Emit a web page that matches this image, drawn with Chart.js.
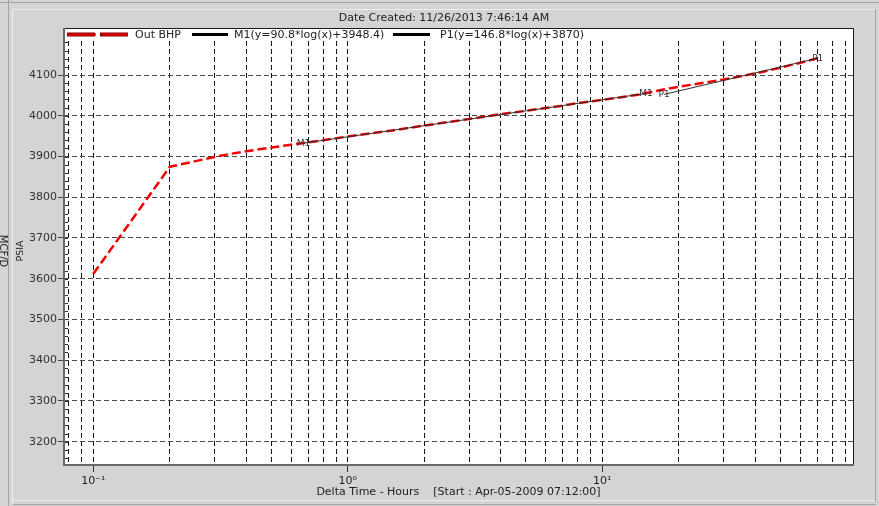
<!DOCTYPE html>
<html>
<head>
<meta charset="utf-8">
<script src="https://cdn.jsdelivr.net/npm/chart.js@4/dist/chart.umd.min.js"></script>
<style>
  html, body { margin: 0; padding: 0; background: #d4d4d4; }
  #wrap { width: 879px; height: 506px; position: relative; }
  canvas { display: block; }
</style>
</head>
<body>
<div id="wrap"><canvas id="chart" width="879" height="506"></canvas></div>
<script>
// Bottom-hole pressure vs. elapsed time (hours)
const hours = [0.1, 0.2, 0.25, 0.3, 0.35, 0.4, 0.5, 0.6, 0.7, 0.8, 0.9, 1, 1.2, 1.5, 2, 2.5, 3, 4, 5, 6, 7, 8, 9, 10,
               12, 14, 16, 18, 20, 25, 30, 35, 40, 45, 50, 60, 70];
const outBhp = [3612, 3875, 3888, 3899, 3907, 3913, 3922, 3929, 3935, 3940, 3945, 3949, 3956, 3964, 3976, 3985, 3992, 4004,
                4012, 4019, 4025, 4031, 4035, 4039, 4046, 4052, 4060, 4066, 4071, 4081, 4089, 4097, 4104, 4111, 4118, 4130, 4141];

// Semi-log straight-line fits: y = slope * log10(x) + intercept
const m1Fit = [90.8, 3948.4];
const p1Fit = [146.8, 3870];
const m1Span = [0.67, 14.85];
const p1Span = [17.5, 70.3];

const seriesNames = ['Out BHP', 'M1(y=90.8*log(x)+3948.4)', 'P1(y=146.8*log(x)+3870)'];
const markerNames = ['M1', 'P1'];

const yTickValues = [3200, 3300, 3400, 3500, 3600, 3700, 3800, 3900, 4000, 4100];
const decadeValues = [0.1, 1, 10];
const decadeLabels = ['10\u207B\u00B9', '10\u2070', '10\u00B9'];

const titleText = 'Date Created: 11/26/2013 7:46:14 AM';
const xTitle = 'Delta Time - Hours    [Start : Apr-05-2009 07:12:00]';
const yTitle = 'PSIA';
const y2Title = 'MCF/D';

const FONT = "'DejaVu Sans', sans-serif";

const fitLine = (fit, span) => span.map(x => ({ x, y: fit[0] * Math.log10(x) + fit[1] }));
const isDecade = v => Math.abs(Math.log10(v) - Math.round(Math.log10(v))) < 1e-9;

const LEGEND_BAND = 13;

// Window frame, white plotting panel and rotated side captions
const framePlugin = {
  id: 'frame',
  beforeDraw(chart) {
    const { ctx, chartArea: a } = chart;
    ctx.save();
    ctx.fillStyle = '#d4d4d4';
    ctx.fillRect(0, 0, chart.width, chart.height);
    // panel borders
    ctx.lineWidth = 1;
    ctx.strokeStyle = '#a4a4a4';
    ctx.beginPath();
    ctx.moveTo(8.5, 0); ctx.lineTo(8.5, chart.height);
    ctx.moveTo(0, 2.5); ctx.lineTo(chart.width, 2.5);
    ctx.moveTo(875.5, 9); ctx.lineTo(875.5, 502);
    ctx.moveTo(13, 504.5); ctx.lineTo(876, 504.5);
    ctx.stroke();
    ctx.strokeStyle = '#eeeeee';
    ctx.beginPath();
    ctx.moveTo(12.5, 9); ctx.lineTo(12.5, 504);
    ctx.moveTo(12, 9.5); ctx.lineTo(875, 9.5);
    ctx.moveTo(13, 500.5); ctx.lineTo(875, 500.5);
    ctx.stroke();
    // white plot panel incl. legend band
    ctx.fillStyle = '#ffffff';
    ctx.fillRect(a.left, a.top - LEGEND_BAND, a.right - a.left, a.bottom - a.top + LEGEND_BAND);
    // header
    ctx.fillStyle = '#222';
    ctx.font = '11px ' + FONT;
    ctx.textAlign = 'center';
    ctx.textBaseline = 'middle';
    ctx.fillText(titleText, 444, 18);
    // y captions
    ctx.font = '9.5px ' + FONT;
    ctx.textBaseline = 'alphabetic';
    ctx.save();
    ctx.translate(23, 251);
    ctx.rotate(-Math.PI / 2);
    ctx.fillText(yTitle, 0, 0);
    ctx.restore();
    ctx.save();
    ctx.font = '10px ' + FONT;
    ctx.translate(0, 251);
    ctx.rotate(Math.PI / 2);
    ctx.fillText(y2Title, 0, 0);
    ctx.restore();
    ctx.restore();
  },
  afterDraw(chart) {
    const { ctx, chartArea: a, scales } = chart;
    ctx.save();
    // inner minor ticks on the pressure axis every 20 psi
    ctx.strokeStyle = '#333';
    ctx.lineWidth = 1;
    ctx.beginPath();
    for (let v = 3160; v <= 4180; v += 20) {
      const y = Math.round(scales.y.getPixelForValue(v)) + 0.5;
      if (y < a.top || y > a.bottom) continue;
      ctx.moveTo(a.left, y); ctx.lineTo(a.left + 4, y);
    }
    ctx.stroke();
    // top and right border
    ctx.strokeStyle = '#1a1a1a';
    ctx.beginPath();
    ctx.moveTo(a.left, a.top - LEGEND_BAND + 0.5); ctx.lineTo(a.right + 0.5, a.top - LEGEND_BAND + 0.5);
    ctx.lineTo(a.right + 0.5, a.bottom);
    ctx.stroke();
    // left and bottom axis lines
    ctx.strokeStyle = '#6a6a6a';
    ctx.lineWidth = 2;
    ctx.beginPath();
    ctx.moveTo(a.left, a.top - LEGEND_BAND); ctx.lineTo(a.left, a.bottom);
    ctx.lineTo(a.right + 1, a.bottom);
    ctx.stroke();
    // legend
    const ly = a.top - LEGEND_BAND + 6.5;
    const starts = [67, 192, 393];
    const sampleW = [61, 36, 37];
    const textGap = [7, 6, 10];
    ctx.font = '11px ' + FONT;
    ctx.textAlign = 'left';
    ctx.textBaseline = 'middle';
    chart.data.datasets.forEach((ds, i) => {
      const x0 = starts[i];
      if (i === 0) {
        ctx.setLineDash([28, 5]);
        ctx.lineWidth = 4; ctx.strokeStyle = '#8a0000';
        ctx.beginPath(); ctx.moveTo(x0, ly); ctx.lineTo(x0 + sampleW[i], ly); ctx.stroke();
        ctx.lineWidth = 2; ctx.strokeStyle = '#e00000';
        ctx.beginPath(); ctx.moveTo(x0 + 1, ly); ctx.lineTo(x0 + sampleW[i], ly); ctx.stroke();
        ctx.setLineDash([]);
      } else {
        ctx.lineWidth = 3; ctx.strokeStyle = '#000';
        ctx.beginPath(); ctx.moveTo(x0, ly); ctx.lineTo(x0 + sampleW[i], ly); ctx.stroke();
      }
      ctx.fillStyle = '#222';
      ctx.fillText(ds.label, x0 + sampleW[i] + textGap[i], ly + 0.5);
    });
    ctx.restore();
  },
  afterDatasetsDraw(chart) {
    // endpoint tags of the straight-line fits
    const { ctx } = chart;
    ctx.save();
    ctx.font = '9px ' + FONT;
    ctx.fillStyle = '#333';
    ctx.textAlign = 'center';
    ctx.textBaseline = 'middle';
    [1, 2].forEach((dsIndex, k) => {
      chart.getDatasetMeta(dsIndex).data.forEach(pt => {
        ctx.fillText(markerNames[k], pt.x, pt.y);
      });
    });
    ctx.restore();
  }
};

new Chart(document.getElementById('chart'), {
  type: 'line',
  data: {
    datasets: [
      {
        label: seriesNames[0],
        data: hours.map((h, i) => ({ x: h, y: outBhp[i] })),
        borderColor: '#f00000',
        borderWidth: 2.5,
        borderDash: [9, 4],
        pointRadius: 0,
        tension: 0,
        order: 2
      },
      {
        label: seriesNames[1],
        data: fitLine(m1Fit, m1Span),
        borderColor: '#303030',
        borderWidth: 1,
        pointRadius: 0,
        order: 1
      },
      {
        label: seriesNames[2],
        data: fitLine(p1Fit, p1Span),
        borderColor: '#303030',
        borderWidth: 1,
        pointRadius: 0,
        order: 1
      }
    ]
  },
  options: {
    responsive: false,
    animation: false,
    devicePixelRatio: 1,
    layout: { padding: { left: 0, right: 26, top: 41, bottom: 0 } },
    plugins: { legend: { display: false }, tooltip: { enabled: false }, title: { display: false } },
    scales: {
      x: {
        type: 'logarithmic',
        min: 0.0767,
        max: 96.7,
        afterBuildTicks(scale) {
          const t = [];
          for (let e = -2; e <= 1; e++) {
            for (let m = 1; m <= 9; m++) {
              const v = m * Math.pow(10, e);
              if (v >= scale.min && v <= scale.max) t.push({ value: v });
            }
          }
          scale.ticks = t;
        },
        afterFit(scale) { scale.height = 41; },
        ticks: {
          autoSkip: false,
          maxRotation: 0,
          padding: 3,
          color: '#222',
          font: { family: FONT, size: 11 },
          callback(value) {
            const i = decadeValues.findIndex(d => Math.abs(d - value) < 1e-9);
            return i >= 0 ? decadeLabels[i] : '';
          }
        },
        grid: {
          color: '#111',
          lineWidth: 1,
          tickLength: 7,
          tickColor: ctx => (ctx.tick && isDecade(ctx.tick.value)) ? '#333' : 'rgba(0,0,0,0)'
        },
        border: { display: false, dash: [5, 3] },
        title: {
          display: true,
          text: xTitle,
          color: '#222',
          font: { family: FONT, size: 11 },
          padding: { top: 0, bottom: 7 }
        }
      },
      y: {
        type: 'linear',
        min: 3142.8,
        max: 4183.5,
        afterBuildTicks(scale) { scale.ticks = yTickValues.map(v => ({ value: v })); },
        afterFit(scale) { scale.width = 64; },
        ticks: {
          padding: 1,
          color: '#333',
          font: { family: FONT, size: 11 },
          callback: v => String(v)
        },
        grid: { color: '#4a4a4a', lineWidth: 1, tickLength: 6, tickColor: '#444' },
        border: { display: false, dash: [5, 3] }
      }
    }
  },
  plugins: [framePlugin]
});
</script>
</body>
</html>
